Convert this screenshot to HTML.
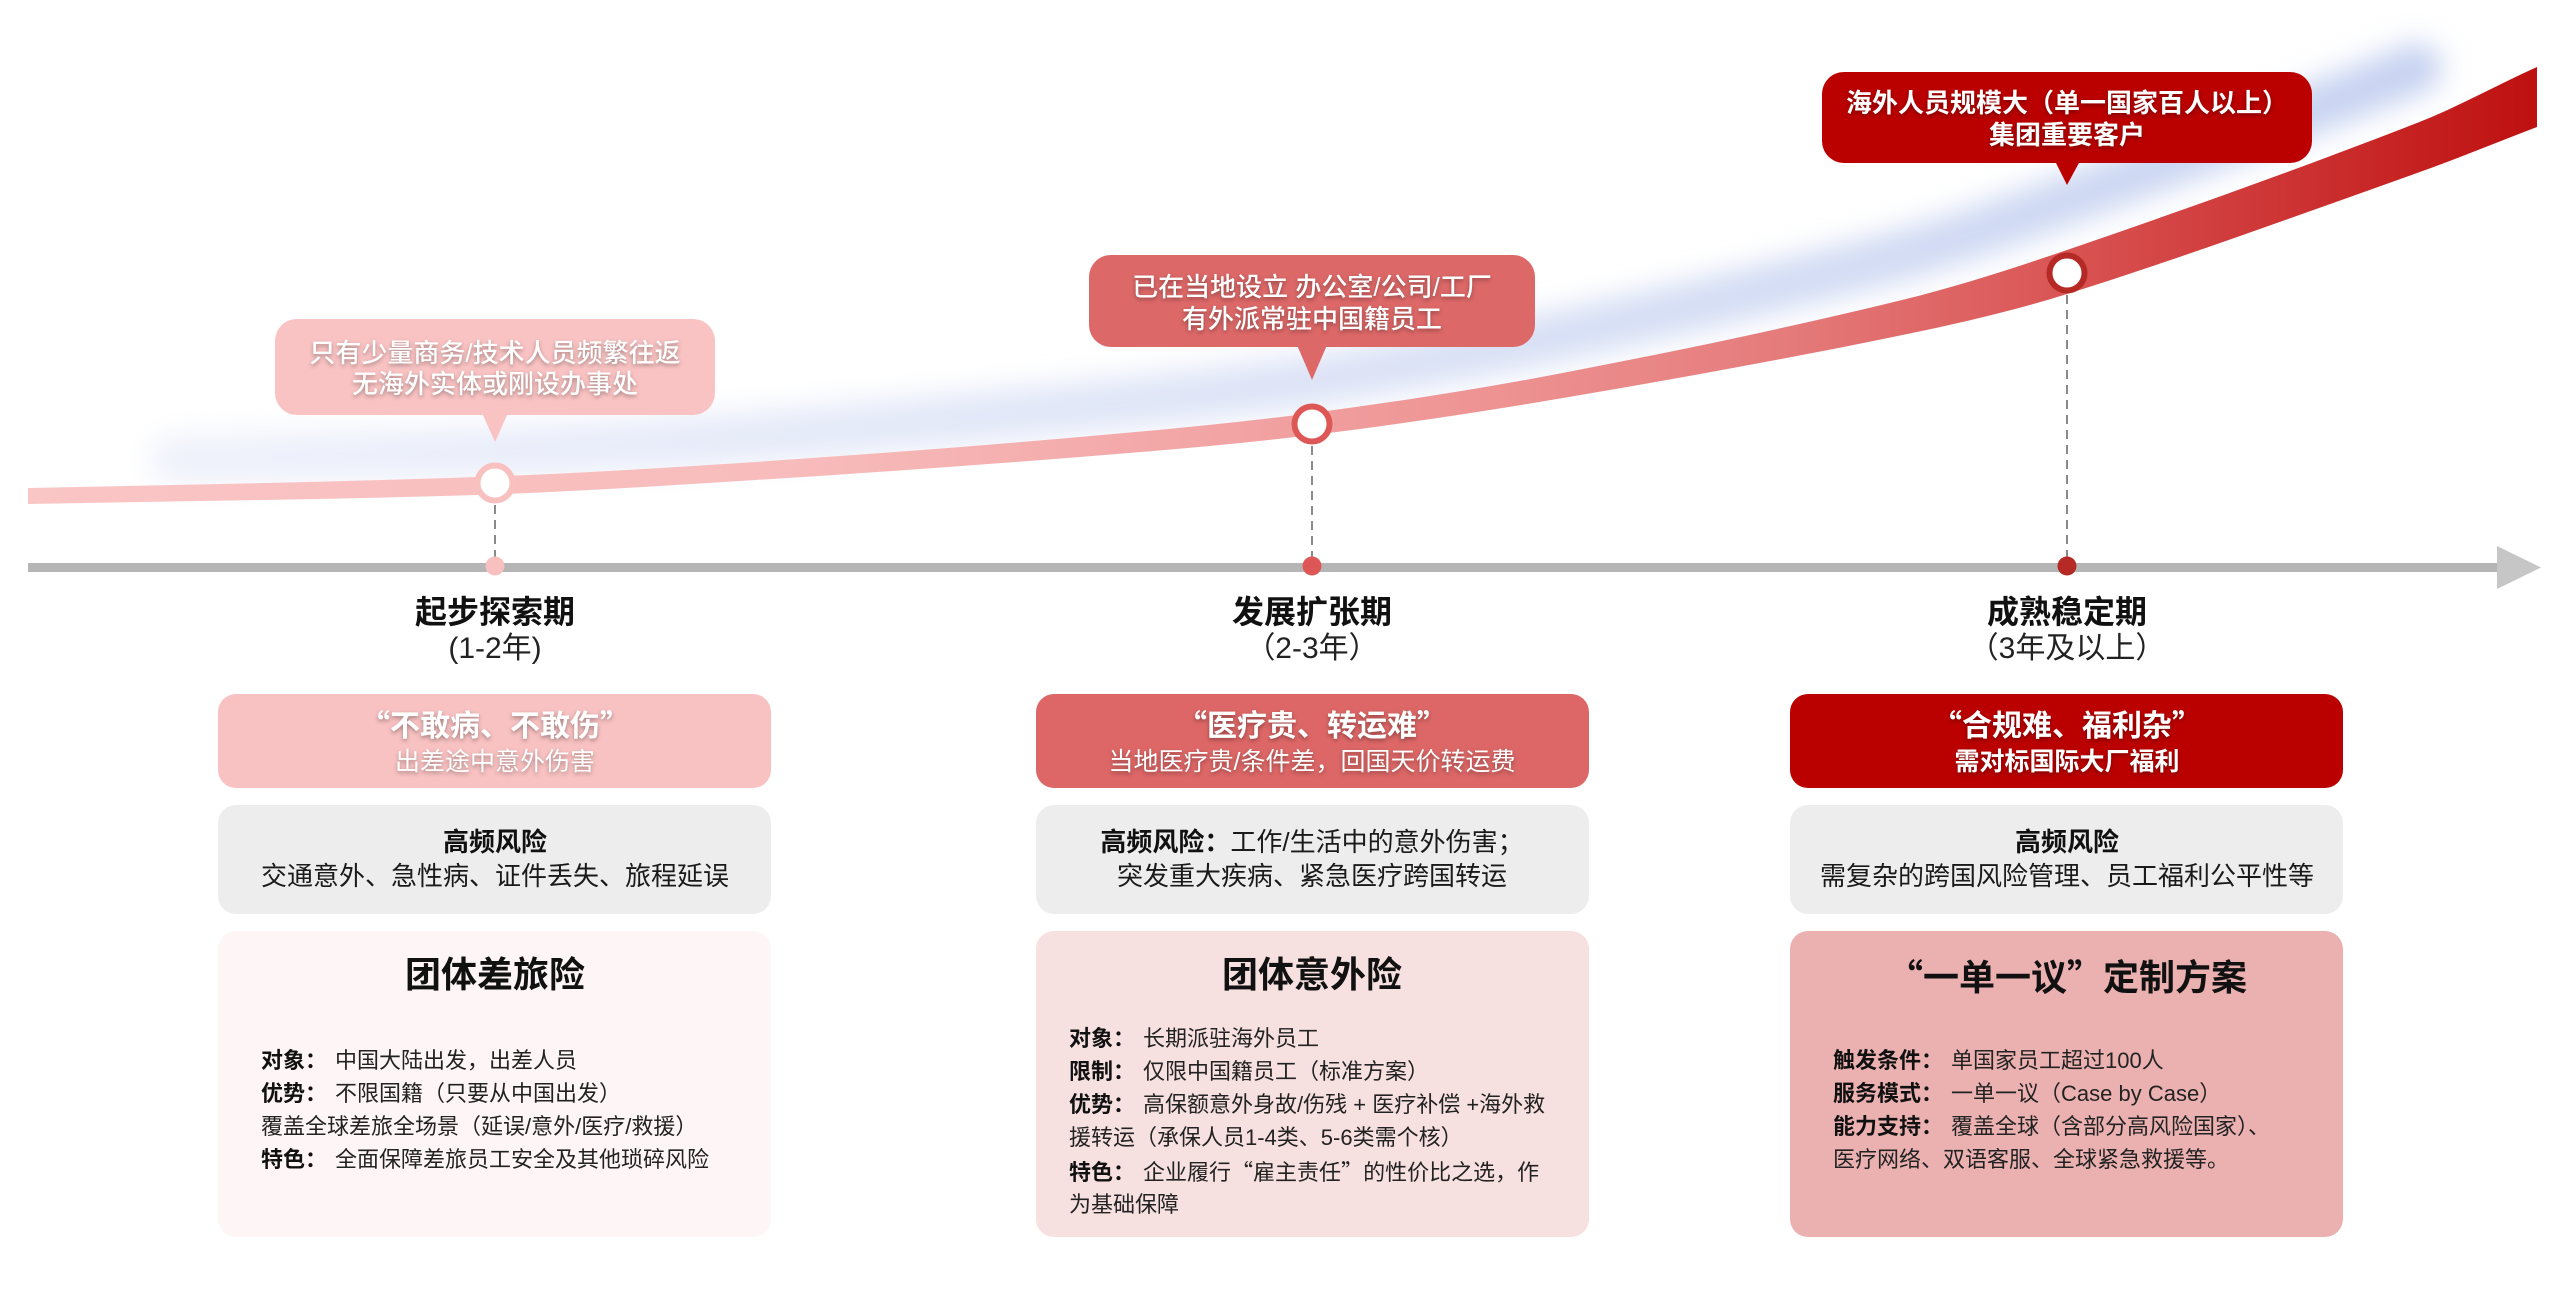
<!DOCTYPE html>
<html lang="zh-CN">
<head>
<meta charset="utf-8">
<style>
  html,body{margin:0;padding:0;background:#fff;}
  body{width:2560px;height:1292px;position:relative;overflow:hidden;
       font-family:"Liberation Sans","Noto Sans CJK SC",sans-serif;color:#1a1a1a;}
  .abs{position:absolute;}
  .c{position:absolute;white-space:nowrap;text-align:center;width:900px;}
  .l{position:absolute;white-space:nowrap;}
  .q{font-family:"Noto Sans CJK SC","Liberation Sans",sans-serif;}
  .wt{color:#fff;text-shadow:0 2px 4px rgba(0,0,0,0.35);}
  .box{position:absolute;border-radius:18px;}
  .bub{position:absolute;border-radius:22px;}
  .cl{font-size:22px;line-height:33px;height:33px;color:#222;}
  .cl b{color:#111;font-weight:700;display:inline-block;margin-right:8px;}
</style>
</head>
<body>

<svg class="abs" style="left:0;top:0" width="2560" height="1292" viewBox="0 0 2560 1292">
  <defs>
    <linearGradient id="band" gradientUnits="userSpaceOnUse" x1="28" y1="0" x2="2540" y2="0">
      <stop offset="0" stop-color="#FAC5C5"/>
      <stop offset="0.3" stop-color="#F8BCBC"/>
      <stop offset="0.45" stop-color="#F3A8A8"/>
      <stop offset="0.58" stop-color="#EE9393"/>
      <stop offset="0.7" stop-color="#E57B7B"/>
      <stop offset="0.8" stop-color="#DB5858"/>
      <stop offset="0.9" stop-color="#CD3333"/>
      <stop offset="1" stop-color="#BE0F0F"/>
    </linearGradient>
    <linearGradient id="glowg" gradientUnits="userSpaceOnUse" x1="170" y1="0" x2="2440" y2="0">
      <stop offset="0" stop-color="#EFF2FB"/>
      <stop offset="0.5" stop-color="#DCE3F6"/>
      <stop offset="1" stop-color="#C6D2F1"/>
    </linearGradient>
    <filter id="blur" x="-10%" y="-50%" width="120%" height="200%">
      <feGaussianBlur stdDeviation="14"/>
    </filter>
  </defs>

  <!-- glow -->
  <path d="M 175,460 C 290,457 410,454 477,452 C 564.7,448.9 652.3,443.8 740,438 C 853.3,429 966.7,418 1080,407 C 1157.3,399 1234.7,391 1312,380 C 1394.7,367 1477.3,353 1560,335.5 C 1673.3,311 1786.7,285 1900,255.5 C 1955.7,240 2011.3,220 2067,200 C 2183.7,157 2300.3,115 2417,68"
        fill="none" stroke="url(#glowg)" stroke-width="50" stroke-linecap="round" filter="url(#blur)"/>

  <!-- band -->
  <path d="M 28,488 C 177.7,485 327.3,482.25 477,477 C 564.7,473.9 652.3,468.8 740,463 C 853.3,455.5 966.7,446.9 1080,437 C 1157.3,430.2 1234.7,423.2 1312,413 C 1394.7,402.1 1477.3,389.3 1560,373.5 C 1673.3,351.8 1786.7,328.1 1900,300.5 C 1955.7,286.9 2011.3,269.1 2067,250 C 2183.7,209.9 2300.3,168.4 2417,123 C 2457,107.4 2497,85 2537,67
           L 2537,127
           C 2497,142.2 2457,158.8 2417,173 C 2300.3,214.5 2183.7,257.3 2067,294 C 2011.3,311.5 1955.7,324 1900,335.5 C 1786.7,358.9 1673.3,379.3 1560,398.5 C 1477.3,412.5 1394.7,424.9 1312,435 C 1234.7,444.4 1157.3,450.8 1080,457 C 966.7,466.1 853.3,473.9 740,481 C 652.3,486.5 564.7,492.2 477,495 C 327.3,499.8 177.7,501 28,504 Z"
        fill="url(#band)"/>

  <!-- axis -->
  <rect x="28" y="563" width="2470" height="9" fill="#B5B5B5"/>
  <polygon points="2497,546 2497,589 2541,567.5" fill="#C6C6C6"/>

  <!-- dashed connectors -->
  <line x1="495" y1="505" x2="495" y2="557" stroke="#8A8A8A" stroke-width="2" stroke-dasharray="9 6"/>
  <line x1="1312" y1="446" x2="1312" y2="557" stroke="#8A8A8A" stroke-width="2" stroke-dasharray="9 6"/>
  <line x1="2067" y1="295" x2="2067" y2="557" stroke="#8A8A8A" stroke-width="2" stroke-dasharray="9 6"/>

  <!-- axis dots -->
  <circle cx="495" cy="566" r="9.5" fill="#F9C0C0"/>
  <circle cx="1312" cy="566" r="9.5" fill="#DD5757"/>
  <circle cx="2067" cy="566" r="9.5" fill="#B52A25"/>

  <!-- nodes -->
  <circle cx="495" cy="483" r="17.5" fill="#fff" stroke="#F9C0C0" stroke-width="6"/>
  <circle cx="1312" cy="424" r="17.5" fill="#fff" stroke="#DD5757" stroke-width="6"/>
  <circle cx="2067" cy="273" r="17.5" fill="#fff" stroke="#B52A25" stroke-width="6"/>

  <!-- bubble pointers -->
  <polygon points="482,413 508,413 495,442" fill="#FAC3C3"/>
  <polygon points="1297,345 1327,345 1312,380" fill="#DD6868"/>
  <polygon points="2055,161 2080,161 2067,185" fill="#BB0000"/>
</svg>

<!-- bubbles -->
<div class="bub" style="left:275px;top:319px;width:440px;height:96px;background:#FAC3C3;"></div>
<div class="bub" style="left:1089px;top:255px;width:446px;height:92px;background:#DD6868;"></div>
<div class="bub" style="left:1822px;top:72px;width:490px;height:91px;background:#BB0000;"></div>

<div class="c wt" style="left:45px;top:337px;font-size:26px;line-height:32px;font-weight:500;">只有少量商务/技术人员频繁往返</div>
<div class="c wt" style="left:45px;top:368px;font-size:26px;line-height:32px;font-weight:500;">无海外实体或刚设办事处</div>

<div class="c wt" style="left:862px;top:271px;font-size:26px;line-height:32px;font-weight:500;">已在当地设立 办公室/公司/工厂</div>
<div class="c wt" style="left:862px;top:303px;font-size:26px;line-height:32px;font-weight:500;">有外派常驻中国籍员工</div>

<div class="c wt" style="left:1617px;top:87px;font-size:26px;line-height:32px;font-weight:700;">海外人员规模大（单一国家百人以上）</div>
<div class="c wt" style="left:1617px;top:119px;font-size:26px;line-height:32px;font-weight:700;">集团重要客户</div>

<!-- stage titles -->
<div class="c" style="left:45px;top:592px;font-size:32px;line-height:40px;font-weight:700;color:#111;">起步探索期</div>
<div class="c" style="left:45px;top:630px;font-size:30px;line-height:38px;color:#222;">(1-2年)</div>

<div class="c" style="left:862px;top:592px;font-size:32px;line-height:40px;font-weight:700;color:#111;">发展扩张期</div>
<div class="c" style="left:862px;top:630px;font-size:30px;line-height:38px;color:#222;">（2-3年）</div>

<div class="c" style="left:1617px;top:592px;font-size:32px;line-height:40px;font-weight:700;color:#111;">成熟稳定期</div>
<div class="c" style="left:1617px;top:630px;font-size:30px;line-height:38px;color:#222;">（3年及以上）</div>

<!-- column 1 -->
<div class="box" style="left:218px;top:694px;width:553px;height:94px;background:#F9C2C2;"></div>
<div class="box" style="left:218px;top:805px;width:553px;height:109px;background:#EDEDED;"></div>
<div class="box" style="left:218px;top:931px;width:553px;height:306px;background:#FEF6F6;"></div>

<div class="c wt" style="left:45px;top:705px;font-size:30px;line-height:36px;font-weight:700;"><span class="q">“</span>不敢病、不敢伤<span class="q">”</span></div>
<div class="c wt" style="left:45px;top:747px;font-size:25px;line-height:30px;">出差途中意外伤害</div>

<div class="c" style="left:45px;top:825px;font-size:26px;line-height:34px;font-weight:700;color:#111;">高频风险</div>
<div class="c" style="left:45px;top:859px;font-size:26px;line-height:34px;color:#1a1a1a;">交通意外、急性病、证件丢失、旅程延误</div>

<div class="c" style="left:45px;top:953px;font-size:36px;line-height:44px;font-weight:700;color:#111;">团体差旅险</div>

<div class="l cl" style="left:261px;top:1044px;"><b>对象：</b>中国大陆出发，出差人员</div>
<div class="l cl" style="left:261px;top:1077px;"><b>优势：</b>不限国籍（只要从中国出发）</div>
<div class="l cl" style="left:261px;top:1110px;">覆盖全球差旅全场景（延误/意外/医疗/救援）</div>
<div class="l cl" style="left:261px;top:1143px;"><b>特色：</b>全面保障差旅员工安全及其他琐碎风险</div>

<!-- column 2 -->
<div class="box" style="left:1036px;top:694px;width:553px;height:94px;background:#DD6767;"></div>
<div class="box" style="left:1036px;top:805px;width:553px;height:109px;background:#EDEDED;"></div>
<div class="box" style="left:1036px;top:931px;width:553px;height:306px;background:#F7E0E0;"></div>

<div class="c wt" style="left:862px;top:705px;font-size:30px;line-height:36px;font-weight:700;"><span class="q">“</span>医疗贵、转运难<span class="q">”</span></div>
<div class="c wt" style="left:862px;top:747px;font-size:25px;line-height:30px;">当地医疗贵/条件差，回国天价转运费</div>

<div class="c" style="left:862px;top:825px;font-size:26px;line-height:34px;color:#1a1a1a;"><b style="color:#111;">高频风险：</b>工作/生活中的意外伤害；</div>
<div class="c" style="left:862px;top:859px;font-size:26px;line-height:34px;color:#1a1a1a;">突发重大疾病、紧急医疗跨国转运</div>

<div class="c" style="left:862px;top:953px;font-size:36px;line-height:44px;font-weight:700;color:#111;">团体意外险</div>

<div class="l cl" style="left:1069px;top:1022px;"><b>对象：</b>长期派驻海外员工</div>
<div class="l cl" style="left:1069px;top:1055px;"><b>限制：</b>仅限中国籍员工（标准方案）</div>
<div class="l cl" style="left:1069px;top:1088px;"><b>优势：</b>高保额意外身故/伤残 + 医疗补偿 +海外救</div>
<div class="l cl" style="left:1069px;top:1121px;">援转运（承保人员1-4类、5-6类需个核）</div>
<div class="l cl" style="left:1069px;top:1155px;"><b>特色：</b>企业履行<span class="q">“</span>雇主责任<span class="q">”</span>的性价比之选，作</div>
<div class="l cl" style="left:1069px;top:1188px;">为基础保障</div>

<!-- column 3 -->
<div class="box" style="left:1790px;top:694px;width:553px;height:94px;background:#BB0000;"></div>
<div class="box" style="left:1790px;top:805px;width:553px;height:109px;background:#EDEDED;"></div>
<div class="box" style="left:1790px;top:931px;width:553px;height:306px;background:#EBB1B1;"></div>

<div class="c wt" style="left:1617px;top:705px;font-size:30px;line-height:36px;font-weight:700;"><span class="q">“</span>合规难、福利杂<span class="q">”</span></div>
<div class="c wt" style="left:1617px;top:747px;font-size:25px;line-height:30px;font-weight:700;">需对标国际大厂福利</div>

<div class="c" style="left:1617px;top:825px;font-size:26px;line-height:34px;font-weight:700;color:#111;">高频风险</div>
<div class="c" style="left:1617px;top:859px;font-size:26px;line-height:34px;color:#1a1a1a;">需复杂的跨国风险管理、员工福利公平性等</div>

<div class="c" style="left:1617px;top:953px;font-size:36px;line-height:44px;font-weight:700;color:#111;"><span class="q">“</span>一单一议<span class="q">”</span>定制方案</div>

<div class="l cl" style="left:1833px;top:1044px;"><b>触发条件：</b>单国家员工超过100人</div>
<div class="l cl" style="left:1833px;top:1077px;"><b>服务模式：</b>一单一议（Case by Case）</div>
<div class="l cl" style="left:1833px;top:1110px;"><b>能力支持：</b>覆盖全球（含部分高风险国家）、</div>
<div class="l cl" style="left:1833px;top:1143px;">医疗网络、双语客服、全球紧急救援等。</div>

</body>
</html>
